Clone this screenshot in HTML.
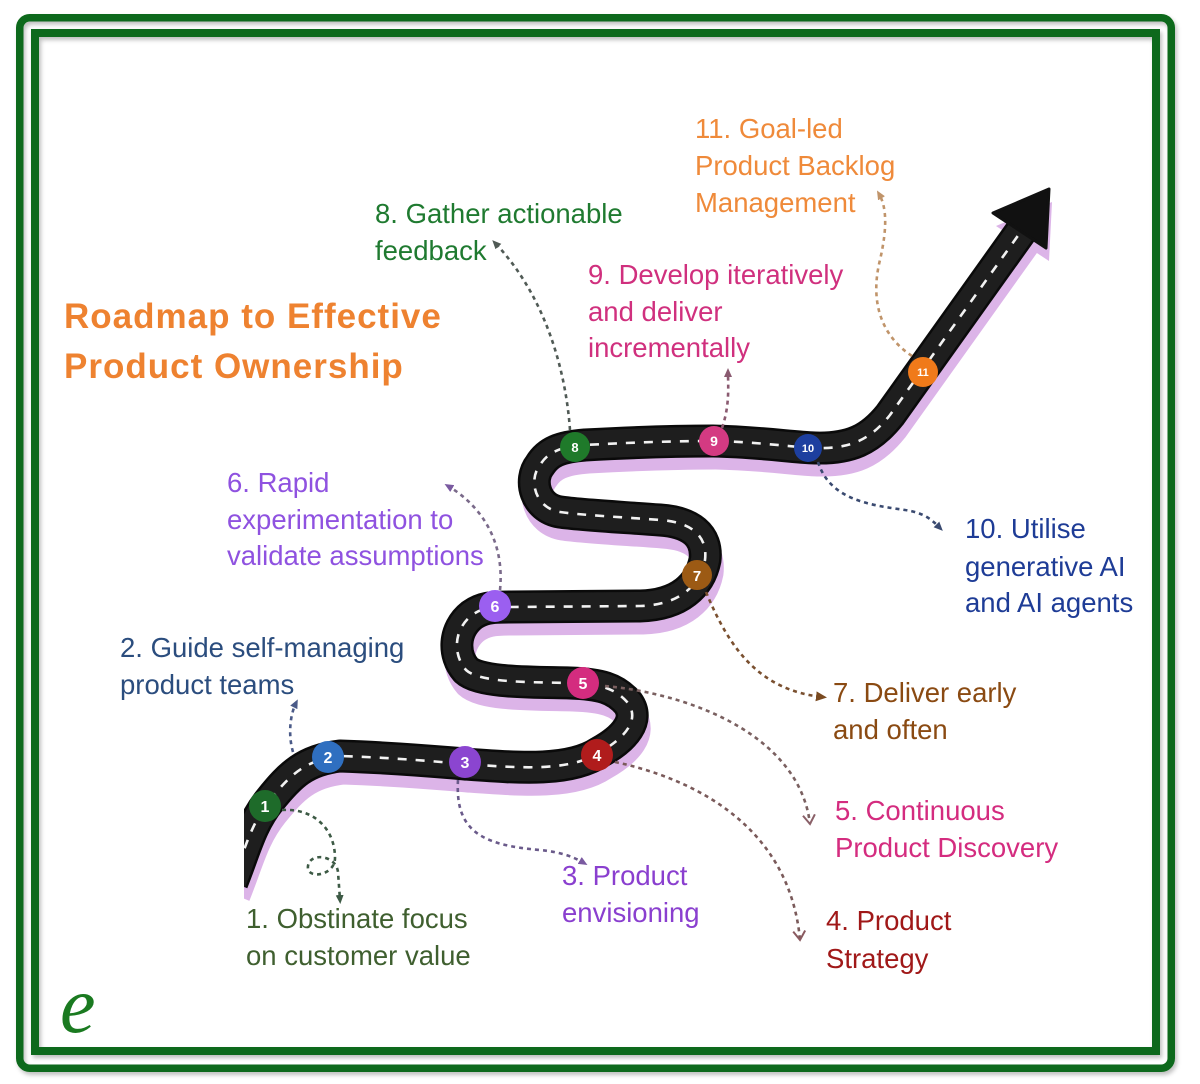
<!DOCTYPE html>
<html>
<head>
<meta charset="utf-8">
<style>
  html,body{margin:0;padding:0;background:#fff;}
  svg{display:block;}
  .lbl{font-family:"Liberation Sans",sans-serif;font-size:27.5px;}
  .ttl{font-family:"Liberation Sans",sans-serif;font-size:35px;font-weight:bold;fill:#ee8230;letter-spacing:1px;}
  .num{font-family:"Liberation Sans",sans-serif;font-weight:bold;fill:#fff;text-anchor:middle;}
</style>
</head>
<body>
<svg width="1200" height="1084" viewBox="0 0 1200 1084" xmlns="http://www.w3.org/2000/svg">
  <defs>
    <filter id="sh" x="-5%" y="-5%" width="110%" height="110%">
      <feDropShadow dx="2" dy="3" stdDeviation="2" flood-color="#000" flood-opacity="0.25"/>
    </filter>
    <clipPath id="cp"><rect x="244" y="0" width="956" height="1084"/></clipPath>
    <marker id="mGreen" markerWidth="10" markerHeight="10" refX="5" refY="5" orient="auto" markerUnits="userSpaceOnUse"><path d="M0,1 L9,5 L0,9 z" fill="#3d5a45"/></marker>
    <marker id="mBlue" markerWidth="10" markerHeight="10" refX="5" refY="5" orient="auto" markerUnits="userSpaceOnUse"><path d="M0,1 L9,5 L0,9 z" fill="#4a5a88"/></marker>
    <marker id="mPurp" markerWidth="10" markerHeight="10" refX="5" refY="5" orient="auto" markerUnits="userSpaceOnUse"><path d="M0,1 L9,5 L0,9 z" fill="#7a5aa0"/></marker>
    <marker id="mVred" markerWidth="14" markerHeight="14" refX="10" refY="7" orient="auto" markerUnits="userSpaceOnUse"><path d="M1,1 L10,7 L1,13" fill="none" stroke="#8a5a60" stroke-width="2"/></marker>
    <marker id="mVpink" markerWidth="14" markerHeight="14" refX="10" refY="7" orient="auto" markerUnits="userSpaceOnUse"><path d="M1,1 L10,7 L1,13" fill="none" stroke="#8a6068" stroke-width="2"/></marker>
    <marker id="mBrown" markerWidth="12" markerHeight="12" refX="6" refY="6" orient="auto" markerUnits="userSpaceOnUse"><path d="M0,1 L11,6 L0,11 z" fill="#7a4a20"/></marker>
    <marker id="mGray" markerWidth="10" markerHeight="10" refX="5" refY="5" orient="auto" markerUnits="userSpaceOnUse"><path d="M0,1 L9,5 L0,9 z" fill="#505a55"/></marker>
    <marker id="mPink" markerWidth="10" markerHeight="10" refX="5" refY="5" orient="auto" markerUnits="userSpaceOnUse"><path d="M0,1 L9,5 L0,9 z" fill="#8a5a70"/></marker>
    <marker id="mNavy" markerWidth="10" markerHeight="10" refX="5" refY="5" orient="auto" markerUnits="userSpaceOnUse"><path d="M0,1 L9,5 L0,9 z" fill="#3a4a70"/></marker>
    <marker id="mOr" markerWidth="10" markerHeight="10" refX="5" refY="5" orient="auto" markerUnits="userSpaceOnUse"><path d="M0,1 L9,5 L0,9 z" fill="#c0946a"/></marker>
  </defs>

  <rect x="0" y="0" width="1200" height="1084" fill="#ffffff"/>

  <!-- borders -->
  <rect x="19.75" y="17.75" width="1151.5" height="1050.5" rx="10" ry="10" fill="none" stroke="#10691a" stroke-width="7.5" filter="url(#sh)"/>
  <rect x="35" y="33" width="1121" height="1018" fill="none" stroke="#10691a" stroke-width="8" filter="url(#sh)"/>

  <!-- road -->
  <g clip-path="url(#cp)">
    <g transform="translate(3,13)">
      <path d="M 232 882 C 245 850, 250 825, 270 800 C 290 775, 305 760, 340 756 C 400 758, 440 762, 465 764 C 520 768, 570 772, 600 752 C 625 738, 640 720, 628 703 C 615 688, 600 684, 570 683 C 530 682, 480 683, 466 670 C 453 655, 453 630, 472 615 C 482 608, 490 607, 510 607 L 640 606 C 680 605, 700 585, 705 560 C 708 535, 690 522, 660 520 C 620 517, 580 515, 560 512 C 535 508, 528 480, 540 465 C 548 452, 560 447, 585 445 C 640 442, 680 441, 713 441 C 760 442, 790 447, 815 448 C 850 449, 870 440, 890 415 L 1022 230" fill="none" stroke="#dcb4e8" stroke-width="31" stroke-linejoin="round"/>
      <polygon points="1049,189 993,213 1046,248" fill="#dcb4e8"/>
    </g>
    <path d="M 232 882 C 245 850, 250 825, 270 800 C 290 775, 305 760, 340 756 C 400 758, 440 762, 465 764 C 520 768, 570 772, 600 752 C 625 738, 640 720, 628 703 C 615 688, 600 684, 570 683 C 530 682, 480 683, 466 670 C 453 655, 453 630, 472 615 C 482 608, 490 607, 510 607 L 640 606 C 680 605, 700 585, 705 560 C 708 535, 690 522, 660 520 C 620 517, 580 515, 560 512 C 535 508, 528 480, 540 465 C 548 452, 560 447, 585 445 C 640 442, 680 441, 713 441 C 760 442, 790 447, 815 448 C 850 449, 870 440, 890 415 L 1022 230" fill="none" stroke="#0a0a0a" stroke-width="33" stroke-linejoin="round"/>
    <path d="M 232 882 C 245 850, 250 825, 270 800 C 290 775, 305 760, 340 756 C 400 758, 440 762, 465 764 C 520 768, 570 772, 600 752 C 625 738, 640 720, 628 703 C 615 688, 600 684, 570 683 C 530 682, 480 683, 466 670 C 453 655, 453 630, 472 615 C 482 608, 490 607, 510 607 L 640 606 C 680 605, 700 585, 705 560 C 708 535, 690 522, 660 520 C 620 517, 580 515, 560 512 C 535 508, 528 480, 540 465 C 548 452, 560 447, 585 445 C 640 442, 680 441, 713 441 C 760 442, 790 447, 815 448 C 850 449, 870 440, 890 415 L 1022 230" fill="none" stroke="#1e1e1e" stroke-width="28" stroke-linejoin="round"/>
    <polygon points="1049,189 993,213 1046,248" fill="#111" stroke="#111" stroke-width="3" stroke-linejoin="round"/>
    <path d="M 232 882 C 245 850, 250 825, 270 800 C 290 775, 305 760, 340 756 C 400 758, 440 762, 465 764 C 520 768, 570 772, 600 752 C 625 738, 640 720, 628 703 C 615 688, 600 684, 570 683 C 530 682, 480 683, 466 670 C 453 655, 453 630, 472 615 C 482 608, 490 607, 510 607 L 640 606 C 680 605, 700 585, 705 560 C 708 535, 690 522, 660 520 C 620 517, 580 515, 560 512 C 535 508, 528 480, 540 465 C 548 452, 560 447, 585 445 C 640 442, 680 441, 713 441 C 760 442, 790 447, 815 448 C 850 449, 870 440, 890 415 L 1022 230" fill="none" stroke="#f2f2f2" stroke-width="2.6" stroke-dasharray="9 9"/>
  </g>

  <!-- connectors -->
  <g fill="none" stroke-width="2.6" stroke-dasharray="4 4">
    <path d="M 282 810 C 315 808, 335 830, 335 858 C 335 876, 306 880, 308 866 C 310 852, 336 855, 338 872 L 340 900" stroke="#3d5a45" marker-end="url(#mGreen)"/>
    <path d="M 293 752 C 288 735, 290 715, 296 703" stroke="#4a5a88" marker-end="url(#mBlue)"/>
    <path d="M 458 780 C 455 830, 480 845, 540 850 C 560 852, 572 856, 584 863" stroke="#6a5a8a" marker-end="url(#mPurp)"/>
    <path d="M 615 762 C 700 780, 790 830, 800 940" stroke="#7a5a5a" marker-end="url(#mVred)"/>
    <path d="M 605 686 C 700 695, 800 740, 810 824" stroke="#7a6060" marker-end="url(#mVpink)"/>
    <path d="M 500 590 C 505 540, 480 505, 448 486" stroke="#7a6a8a" marker-end="url(#mPurp)"/>
    <path d="M 706 592 C 730 650, 760 690, 822 697" stroke="#7a5030" marker-end="url(#mBrown)"/>
    <path d="M 570 430 C 565 360, 540 290, 495 243" stroke="#505a55" marker-end="url(#mGray)"/>
    <path d="M 722 428 C 730 405, 728 385, 728 372" stroke="#8a5a70" marker-end="url(#mPink)"/>
    <path d="M 818 462 C 830 500, 870 505, 905 510 C 925 513, 932 520, 940 528" stroke="#3a4a70" marker-end="url(#mNavy)"/>
    <path d="M 912 356 C 880 335, 870 300, 880 260 C 888 225, 886 206, 879 194" stroke="#c0946a" marker-end="url(#mOr)"/>
  </g>

  <!-- nodes -->
  <g>
    <circle cx="265" cy="806" r="16" fill="#1e6b2a"/><text class="num" x="265" y="812" font-size="16">1</text>
    <circle cx="328" cy="757" r="16" fill="#2f6fc0"/><text class="num" x="328" y="763" font-size="16">2</text>
    <circle cx="465" cy="762" r="16" fill="#8b45d0"/><text class="num" x="465" y="768" font-size="16">3</text>
    <circle cx="597" cy="755" r="16" fill="#b01c1c"/><text class="num" x="597" y="761" font-size="16">4</text>
    <circle cx="583" cy="683" r="16" fill="#d42c7f"/><text class="num" x="583" y="689" font-size="16">5</text>
    <circle cx="495" cy="606" r="16" fill="#9b5ff0"/><text class="num" x="495" y="612" font-size="16">6</text>
    <circle cx="697" cy="575" r="15" fill="#9c5a14"/><text class="num" x="697" y="581" font-size="15">7</text>
    <circle cx="575" cy="447" r="15" fill="#1f7a2a"/><text class="num" x="575" y="452" font-size="13">8</text>
    <circle cx="714" cy="441" r="15" fill="#d43a82"/><text class="num" x="714" y="446" font-size="14">9</text>
    <circle cx="808" cy="448" r="14" fill="#1d3f9f"/><text class="num" x="808" y="452" font-size="11">10</text>
    <circle cx="923" cy="372" r="15" fill="#f07a1a"/><text class="num" x="923" y="376" font-size="11">11</text>
  </g>

  <!-- title -->
  <text class="ttl" x="64" y="328">Roadmap to Effective</text>
  <text class="ttl" x="64" y="378">Product Ownership</text>

  <!-- labels -->
  <g class="lbl">
    <text x="695" y="138" fill="#ef8a3a">11. Goal-led</text>
    <text x="695" y="175" fill="#ef8a3a">Product Backlog</text>
    <text x="695" y="212" fill="#ef8a3a">Management</text>

    <text x="375" y="223" fill="#1f7a30">8. Gather actionable</text>
    <text x="375" y="260" fill="#1f7a30">feedback</text>

    <text x="588" y="284" fill="#d0307e">9. Develop iteratively</text>
    <text x="588" y="321" fill="#d0307e">and deliver</text>
    <text x="588" y="357" fill="#d0307e">incrementally</text>

    <text x="227" y="492" fill="#8f52e0">6. Rapid</text>
    <text x="227" y="529" fill="#8f52e0">experimentation to</text>
    <text x="227" y="565" fill="#8f52e0">validate assumptions</text>

    <text x="965" y="538" fill="#1e3c96">10. Utilise</text>
    <text x="965" y="576" fill="#1e3c96">generative AI</text>
    <text x="965" y="612" fill="#1e3c96">and AI agents</text>

    <text x="120" y="657" fill="#2b4d7e">2. Guide self-managing</text>
    <text x="120" y="694" fill="#2b4d7e">product teams</text>

    <text x="833" y="702" fill="#8a4a12">7. Deliver early</text>
    <text x="833" y="739" fill="#8a4a12">and often</text>

    <text x="835" y="820" fill="#d42c7f">5. Continuous</text>
    <text x="835" y="857" fill="#d42c7f">Product Discovery</text>

    <text x="562" y="885" fill="#8a3fcf">3. Product</text>
    <text x="562" y="922" fill="#8a3fcf">envisioning</text>

    <text x="826" y="930" fill="#a01818">4. Product</text>
    <text x="826" y="968" fill="#a01818">Strategy</text>

    <text x="246" y="928" fill="#3f5f2f">1. Obstinate focus</text>
    <text x="246" y="965" fill="#3f5f2f">on customer value</text>
  </g>

  <!-- logo -->
  <text x="60" y="1032" font-family="Liberation Serif, serif" font-style="italic" font-size="80" fill="#1a7a20">e</text>
</svg>
</body>
</html>
